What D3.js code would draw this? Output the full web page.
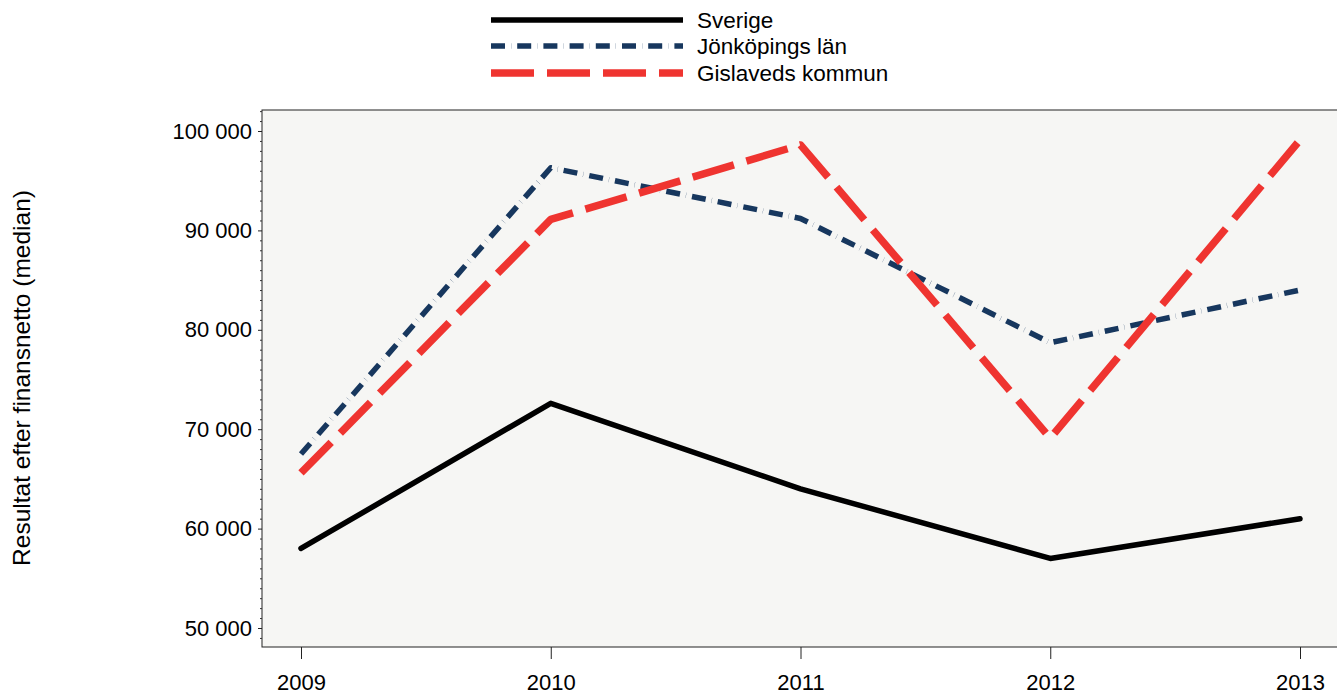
<!DOCTYPE html>
<html><head><meta charset="utf-8">
<script src="https://cdn.jsdelivr.net/npm/d3@7"></script>
<style>body{margin:0;background:#fff;}svg{display:block;font-family:"Liberation Sans",Arial,sans-serif;}</style>
</head><body>
<svg id="c" width="1337" height="694"></svg>
<script>
const years = [2009, 2010, 2011, 2012, 2013];
const sverige = [58000, 72600, 64000, 57000, 61000];
const jonkoping = [67500, 96300, 91200, 78700, 84000];
const gislaved = [65600, 91100, 98600, 69100, 99100];
const seriesNames = ["Sverige", "Jönköpings län", "Gislaveds kommun"];
const yTicks = [50000, 60000, 70000, 80000, 90000, 100000];
const yLabel = "Resultat efter finansnetto (median)";

const FS = 22;
const svg = d3.select("#c");
const L = 262, R = 1345, T = 110, B = 647;
const x = d3.scaleLinear().domain([2009, 2013]).range([301, 1300]);
const y = d3.scaleLinear().domain([50000, 100000]).range([628, 131]);

svg.append("rect").attr("x", L).attr("y", T).attr("width", R - L).attr("height", B - T)
  .attr("fill", "#f6f6f4").attr("stroke", "#222").attr("stroke-width", 1);

const fmt = d => d3.format(",")(d).replace(/,/g, " ");
// y axis
const ya = svg.append("g").attr("transform", `translate(${L},0)`)
  .call(d3.axisLeft(y).tickValues(yTicks).tickFormat(fmt).tickSize(4).tickPadding(6));
ya.select(".domain").remove();
ya.selectAll("text").attr("font-size", FS).attr("fill", "#000").attr("font-family", "Liberation Sans, Arial, sans-serif");
ya.selectAll("line").attr("stroke", "#222");
const minor = d3.range(49000, 102001, 1000).filter(v => v % 10000 !== 0 && y(v) > T && y(v) < B);
const ym = svg.append("g").attr("transform", `translate(${L},0)`)
  .call(d3.axisLeft(y).tickValues(minor).tickFormat("").tickSize(2));
ym.select(".domain").remove();
ym.selectAll("line").attr("stroke", "#333");

// x axis
const xa = svg.append("g").attr("transform", `translate(0,${B})`)
  .call(d3.axisBottom(x).tickValues(years).tickFormat(d3.format("d")).tickSize(12).tickPadding(15));
xa.select(".domain").remove();
xa.selectAll("text").attr("font-size", FS).attr("fill", "#000").attr("font-family", "Liberation Sans, Arial, sans-serif");
xa.selectAll("line").attr("stroke", "#222");

svg.append("text").attr("transform", "translate(30,378) rotate(-90)")
  .attr("text-anchor", "middle").attr("font-size", 24.5).text(yLabel);

const styles = [
  {data: sverige, color: "#000000", w: 5.5, dash: null},
  {data: jonkoping, color: "#17375e", w: 5.5, dash: "14,6,0.2,6"},
  {data: gislaved, color: "#ef3430", w: 7.5, dash: "43,13"}
];
const line = d3.line().x((d, i) => x(years[i])).y(d => y(d));
styles.forEach(s => {
  svg.append("path").datum(s.data).attr("d", line).attr("fill", "none")
    .attr("stroke", s.color).attr("stroke-width", s.w)
    .attr("stroke-dasharray", s.dash).attr("stroke-linejoin", "round")
    .attr("stroke-linecap", s.dash ? "butt" : "round");
});

// legend
const ly = [20, 46, 73];
styles.forEach((s, i) => {
  svg.append("line").attr("x1", 491).attr("x2", 683).attr("y1", ly[i]).attr("y2", ly[i])
    .attr("stroke", s.color).attr("stroke-width", s.w).attr("stroke-dasharray", s.dash);
  svg.append("text").attr("x", 697).attr("y", ly[i] + 8).attr("font-size", FS + 0.5).text(seriesNames[i]);
});
</script>
</body></html>
